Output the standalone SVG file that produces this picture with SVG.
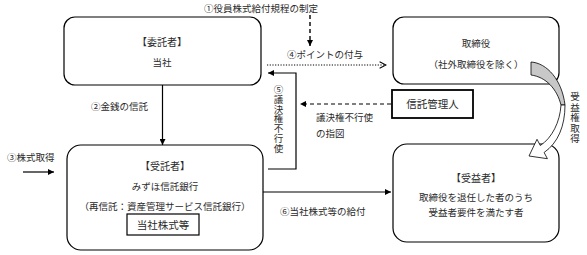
<svg xmlns="http://www.w3.org/2000/svg" width="587" height="255" viewBox="0 0 587 255">
<style>
text{font-family:"Noto Sans CJK JP","Noto Sans CJK SC",sans-serif;font-size:9.5px;fill:#2a2a2a}
.c{text-anchor:middle}
.v{writing-mode:vertical-rl;text-anchor:start}
.box{fill:#fff;stroke:#000;stroke-width:1.2}
.ln{fill:none;stroke:#000;stroke-width:1.2}
.dash{fill:none;stroke:#000;stroke-width:1.4;stroke-dasharray:4 3}
.dot{fill:none;stroke:#000;stroke-width:1;stroke-dasharray:1.2 1.5}
</style>
<defs>
<marker id="ah" viewBox="0 0 10 10" refX="10" refY="5" markerWidth="7" markerHeight="6" markerUnits="userSpaceOnUse" orient="auto"><path d="M0,0 L10,5 L0,10 z" fill="#000"/></marker>
<marker id="chev" viewBox="0 0 10 10" refX="9" refY="5" markerWidth="9" markerHeight="8" markerUnits="userSpaceOnUse" orient="auto"><path d="M1,1 L9,5 L1,9" fill="none" stroke="#000" stroke-width="1.3"/></marker>
</defs>
<rect width="587" height="255" fill="#fff"/>

<g id="itakusha">
<rect class="box" x="64" y="17" width="197" height="68" rx="11"/>
<text class="c" x="162" y="46" style="font-size:10px">【委託者】</text>
<text class="c" x="162" y="66">当社</text>
</g>

<g id="torishimariyaku">
<rect class="box" x="393" y="17" width="166" height="67" rx="11"/>
<text class="c" x="476" y="47">取締役</text>
<text class="c" x="476" y="68">（社外取締役を除く）</text>
</g>

<g id="shintaku-kanrinin">
<rect x="392" y="90" width="81" height="28" fill="#fff" stroke="#000" stroke-width="1.8"/>
<text class="c" x="432.5" y="108" style="font-size:10.5px">信託管理人</text>
</g>

<g id="jutakusha">
<rect class="box" x="67" y="145" width="196" height="105" rx="14"/>
<text class="c" x="165" y="170" style="font-size:10px">【受託者】</text>
<text class="c" x="165" y="190">みずほ信託銀行</text>
<text class="c" x="165" y="210">（再信託：資産管理サービス信託銀行）</text>
<g id="tousha-kabushiki">
<rect x="127" y="214" width="72" height="21" fill="#fff" stroke="#000" stroke-width="1.2"/>
<text class="c" x="163" y="229" style="font-size:10.5px">当社株式等</text>
</g>
</g>

<g id="juekisha">
<rect class="box" x="393" y="144" width="166" height="98" rx="14"/>
<text class="c" x="476" y="182" style="font-size:10px">【受益者】</text>
<text class="c" x="476" y="201">取締役を退任した者のうち</text>
<text class="c" x="476" y="216">受益者要件を満たす者</text>
</g>

<g id="connectors">
<!-- ① -->
<text class="c" x="261" y="12">①役員株式給付規程の制定</text>
<line class="dash" x1="310" y1="15" x2="310" y2="46" marker-end="url(#ah)"/>
<!-- ④ -->
<text x="287" y="58">④ポイントの付与</text>
<line class="dot" x1="267" y1="65" x2="386" y2="65" marker-end="url(#chev)"/>
<!-- ⑤ -->
<polyline class="ln" points="268,169 296,169 296,73 268,73" marker-end="url(#ah)"/>
<text class="v" x="278.5" y="85" style="letter-spacing:0.2px">⑤議決権不行使</text>
<!-- 議決権不行使の指図 -->
<line class="dash" x1="391" y1="104" x2="300" y2="104" style="stroke-width:1.2" marker-end="url(#ah)"/>
<text x="316" y="121">議決権不行使</text>
<text x="316" y="137">の指図</text>
<!-- ② -->
<line class="ln" x1="162.5" y1="85" x2="162.5" y2="145" marker-end="url(#ah)"/>
<text x="91" y="110">②金銭の信託</text>
<!-- ③ -->
<line class="ln" x1="23" y1="172" x2="54" y2="172" marker-end="url(#ah)"/>
<text x="7" y="161">③株式取得</text>
<!-- ⑥ -->
<line class="ln" x1="263" y1="192" x2="391" y2="192" marker-end="url(#ah)"/>
<text x="280" y="215">⑥当社株式等の給付</text>
<!-- 受益権取得 curved arrow -->
<path d="M531,62 C547,63 562,80 565,105 L561,105 C557,89 546,77 531,75 Z" fill="#c8c8c8" stroke="#000" stroke-width="0.8"/>
<path d="M561,105 L565,105 C565,126 558,143 544.1,152.5 L547.4,158.7 L529,156 L537,139.3 L540.3,145.5 C552,138 560,122 561,105 Z" fill="#fff" stroke="#000" stroke-width="0.8"/>
<text class="v" x="575" y="92" style="letter-spacing:0.9px">受益権取得</text>
</g>
</svg>
